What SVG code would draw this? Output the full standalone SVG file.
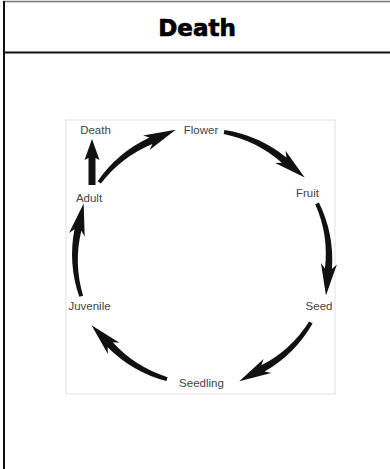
<svg xmlns="http://www.w3.org/2000/svg" xmlns:xlink="http://www.w3.org/1999/xlink" width="390" height="469" viewBox="0 0 390 469">
  <style>
    .lbl { font-family: "Liberation Sans", Arial, sans-serif; font-size: 11.5px; fill: #444; text-anchor: middle; }
    .title { font-family: "DejaVu Sans", sans-serif; font-weight: bold; font-size: 23px; fill: #000; stroke: #000; stroke-width: 0.7px; text-anchor: middle; }
    .arr { fill: #111; }
  </style>
  <defs>
    <path id="arc" d="M 129,0 A 130.25,130.25 0 0 1 112.67,65.85 L 119.08,63.8 L 96.03,87.39 L 105.26,55.72 L 106.63,62.31 A 124.25,124.25 0 0 0 125,0 Z"/>
  </defs>
  <rect x="0" y="0" width="390" height="469" fill="#fff"/>
  <g id="frame">
    <line x1="3" y1="1.5" x2="390" y2="1.5" stroke="#777" stroke-width="1.5"/>
    <line x1="4" y1="1" x2="4" y2="469" stroke="#111" stroke-width="2"/>
    <line x1="3" y1="52.5" x2="390" y2="52.5" stroke="#111" stroke-width="2"/>
    <text class="title" x="197" y="36">Death</text>
  </g>
  <rect id="picture" x="66" y="120" width="269" height="274" fill="#fff" stroke="#ececec" stroke-width="1.5"/>
  <g id="connectors" class="arr">
    <use xlink:href="#arc" transform="translate(202,257) rotate(216)"/>
    <use xlink:href="#arc" transform="translate(202,257) rotate(280)"/>
    <use xlink:href="#arc" transform="translate(202,257) rotate(335)"/>
    <use xlink:href="#arc" transform="translate(202,257) rotate(31)"/>
    <use xlink:href="#arc" transform="translate(202,257) rotate(106)"/>
    <use xlink:href="#arc" transform="translate(202,257) rotate(162)"/>
    <path d="M 88.5,185 L 88.5,158 L 84.5,160 L 92,139 L 99.5,160 L 95.5,158 L 95.5,185 Z"/>
  </g>
  <g id="node-death"><text class="lbl" x="95.5" y="134">Death</text></g>
  <g id="node-flower"><text class="lbl" x="201" y="134">Flower</text></g>
  <g id="node-fruit"><text class="lbl" x="307.5" y="197">Fruit</text></g>
  <g id="node-seed"><text class="lbl" x="319" y="310">Seed</text></g>
  <g id="node-seedling"><text class="lbl" x="201.5" y="387">Seedling</text></g>
  <g id="node-juvenile"><text class="lbl" x="89.5" y="310">Juvenile</text></g>
  <g id="node-adult"><text class="lbl" x="89" y="202">Adult</text></g>
</svg>
